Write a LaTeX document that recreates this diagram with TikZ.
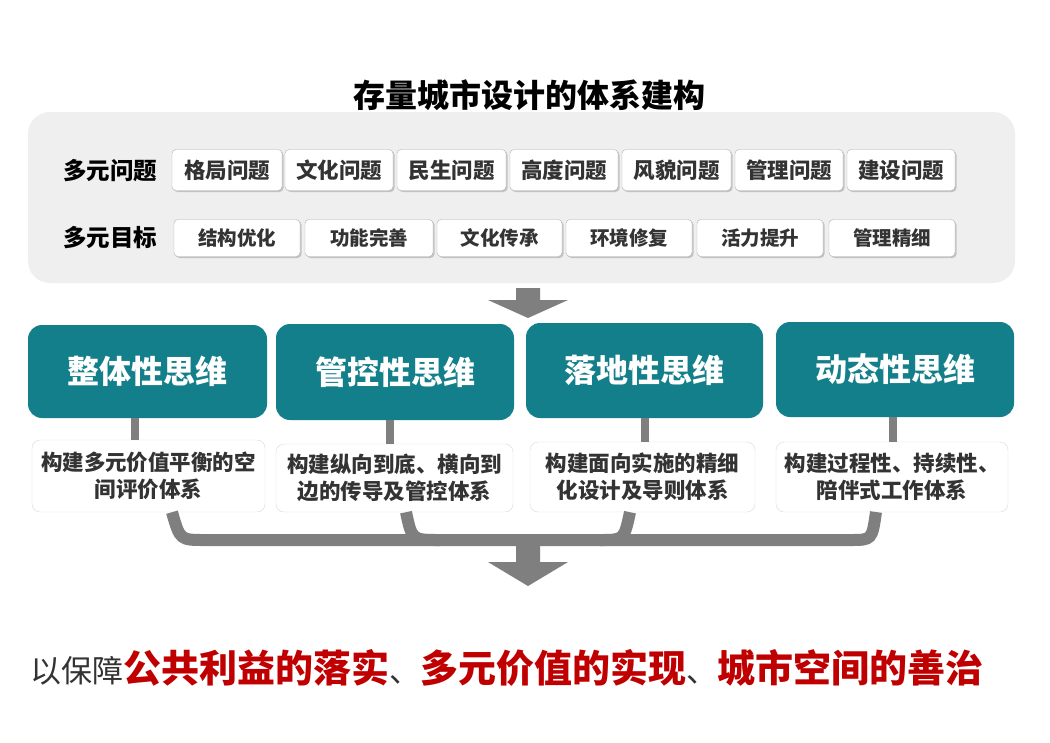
\documentclass[tikz,border=0pt]{standalone}
\usepackage{fontspec}
\setmainfont{Noto Sans CJK SC}
\usetikzlibrary{shadows}
\definecolor{teal1}{HTML}{137F8A}
\definecolor{panel}{HTML}{EFEFEF}
\definecolor{arr}{HTML}{7F7F7F}
\definecolor{txt}{HTML}{333333}
\definecolor{red1}{HTML}{C00000}
\begin{document}
\begin{tikzpicture}[x=1pt,y=-1pt,
 tag/.style={draw=gray!60,fill=white,rounded corners=4pt,drop shadow={shadow xshift=1.5pt,shadow yshift=-1.5pt,opacity=0.4},font=\fontsize{21.5}{21.5}\selectfont\bfseries,text=txt,inner sep=0pt},
 goal/.style={tag,font=\fontsize{19.5}{19.5}\selectfont\bfseries},
 think/.style={fill=teal1,rounded corners=14pt,text=white,font=\fontsize{32}{32}\selectfont\bfseries,inner sep=0pt},
 desc/.style={draw=gray!30,fill=white,rounded corners=8pt,text=txt,font=\fontsize{21.5}{27}\selectfont\bfseries,align=center,inner sep=0pt},
 rowlab/.style={font=\fontsize{23.5}{23.5}\selectfont\bfseries,text=black},
 link/.style={draw=arr,line width=8pt},
 bar/.style={draw=arr,line width=12pt}]
\useasboundingbox (0,0) rectangle (1050,742);
\fill[white] (0,0) rectangle (1050,742);
\node[font=\fontsize{32}{32}\selectfont\bfseries] (title) at (529,95) {存量城市设计的体系建构};
\node[fill=panel,rounded corners=22pt,minimum width=987pt,minimum height=171pt,inner sep=0pt] (panel) at (521.5,197.5) {};
\node[rowlab] (l1) at (110,171) {多元问题};
\node[rowlab] (l2) at (110,238) {多元目标};
\foreach \n/\a/\b/\t in {p1/172/282/格局问题,p2/285/393/文化问题,p3/397/506/民生问题,p4/510/618/高度问题,p5/622/731/风貌问题,p6/735/843/管理问题,p7/847/955/建设问题}
 \node[tag,minimum width=\b-\a,minimum height=41pt] (\n) at ({(\a+\b)/2},170) {\t};
\foreach \n/\a/\b/\t in {g1/174/300/结构优化,g2/305/433/功能完善,g3/437/562/文化传承,g4/566/692/环境修复,g5/697/823/活力提升,g6/829/955/管理精细}
 \node[goal,minimum width=\b-\a,minimum height=37pt] (\n) at ({(\a+\b)/2},238) {\t};
% top arrow
\fill[arr] (516,288) rectangle (540,300) (488,300) -- (568,300) -- (528,318) -- cycle;
\foreach \n/\a/\b/\ya/\yb/\t in {t1/28/267/325/418/整体性思维,t2/276/514/324/420/管控性思维,t3/526/763/323/418/落地性思维,t4/776/1014/322/417/动态性思维}
 \node[think,minimum width=\b-\a,minimum height=\yb-\ya] (\n) at ({(\a+\b)/2},{(\ya+\yb)/2}) {\t};
\foreach \n/\a/\b/\ya/\yb/\t in {d1/32/265/440/512/{构建多元价值平衡的空\\间评价体系},d2/276/513/444/512/{构建纵向到底、横向到\\边的传导及管控体系},d3/530/755/442/512/{构建面向实施的精细\\化设计及导则体系},d4/776/1008/442/512/{构建过程性、持续性、\\陪伴式工作体系}}
 \node[desc,minimum width=\b-\a,minimum height=\yb-\ya] (\n) at ({(\a+\b)/2},{(\ya+\yb)/2}) {\t};
\draw[link] (t1.south -| 135,0) -- (d1.north -| 135,0);
\draw[link] (t2.south -| 390,0) -- (d2.north -| 390,0);
\draw[link] (t3.south -| 645,0) -- (d3.north -| 645,0);
\draw[link] (t4.south -| 893,0) -- (d4.north -| 893,0);
% bottom merging bar
\draw[bar] (d1.south -| 172,0) .. controls (180,540) .. (205,540) -- (850,540) .. controls (872,540) .. (876,512);
\draw[bar] (d2.south -| 406,0) .. controls (412,540) .. (440,540);
\draw[bar] (d3.south -| 630,0) .. controls (624,540) .. (600,540);
\fill[arr] (516,540) rectangle (540,562) (488,562) -- (568,562) -- (528,586) -- cycle;
\node[anchor=west,inner sep=0pt] (bottom) at (30,668) {\fontsize{31}{31}\selectfont\color{txt}以保障\fontsize{38}{38}\selectfont\bfseries\color{red1}公共利益的落实\mdseries\fontsize{31}{31}\selectfont\color{txt}、\bfseries\fontsize{38}{38}\selectfont\color{red1}多元价值的实现\mdseries\fontsize{31}{31}\selectfont\color{txt}、\bfseries\fontsize{38}{38}\selectfont\color{red1}城市空间的善治};
\end{tikzpicture}
\end{document}
